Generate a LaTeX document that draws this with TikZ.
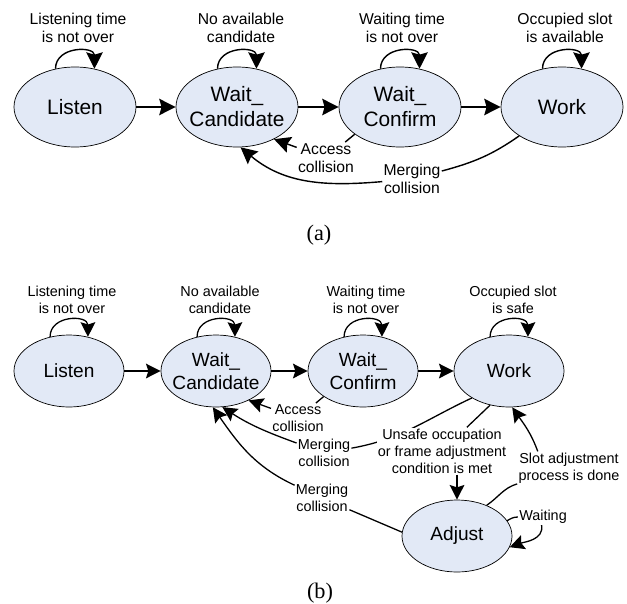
\documentclass[tikz,border=0pt]{standalone}
\usepackage{fontspec}
\setmainfont{Liberation Serif}
\setsansfont{Liberation Sans}
\usetikzlibrary{calc, arrows.meta, shapes.geometric}

\definecolor{estadoazul}{RGB}{226,233,246}

\begin{document}
\begin{tikzpicture}[x=0.03cm, y=0.03cm,
    estadoA/.style={ellipse, draw, line width=0.6pt, fill=estadoazul, minimum width=3.66cm, minimum height=2.4cm, inner xsep=-6pt, inner ysep=0pt, align=center, font=\sffamily\fontsize{17.8}{21.4}\selectfont},
    estadoB/.style={ellipse, draw, line width=0.6pt, fill=estadoazul, minimum width=3.3cm, minimum height=2.16cm, inner xsep=-6pt, inner ysep=0pt, align=center, font=\sffamily\fontsize{16.3}{19.5}\selectfont},
    etiqA/.style={fill=white, inner sep=1pt, align=center, font=\sffamily\fontsize{13.4}{15.4}\selectfont},
    etiqB/.style={fill=white, inner sep=1pt, align=center, font=\sffamily\fontsize{12.3}{14.5}\selectfont},
    lineaA/.style={line width=1.2pt},
    lineaB/.style={line width=1.1pt},
    flechaA/.style={lineaA, -{Stealth[length=14pt, width=14pt, inset=2pt]}},
    flechaB/.style={lineaB, -{Stealth[length=12.5pt, width=12.5pt, inset=2pt]}},
    rotulo/.style={font=\rmfamily\fontsize{19}{22}\selectfont}
]
    % Fijar los limites del dibujo
    \useasboundingbox (0,0) rectangle (627,603);

    % ---------------- Diagrama (a) ----------------
    % Estados
    \node[estadoA] (LA) at (75,496) {Listen};
    \node[estadoA] (CA) at (237,496) {Wait\_\\Candidate};
    \node[estadoA] (FA) at (400,496) {Wait\_\\Confirm};
    \node[estadoA] (WA) at (562,496) {Work};

    % Etiquetas de los lazos
    \node[etiqA] (tLA) at (78,575) {Listening time\\is not over};
    \node[etiqA] (tCA) at (241,575) {No available\\candidate};
    \node[etiqA] (tFA) at (402,575) {Waiting time\\is not over};
    \node[etiqA] (tWA) at (565,575) {Occupied slot\\is available};

    % Lazos sobre cada estado
    \draw[flechaA] (LA.117) to[out=90,in=90,looseness=1.5] (LA.63);
    \draw[flechaA] (CA.117) to[out=90,in=90,looseness=1.5] (CA.63);
    \draw[flechaA] (FA.117) to[out=90,in=90,looseness=1.5] (FA.63);
    \draw[flechaA] (WA.117) to[out=90,in=90,looseness=1.5] (WA.63);

    % Transiciones horizontales
    \draw[flechaA] (LA) -- (CA);
    \draw[flechaA] (CA) -- (FA);
    \draw[flechaA] (FA) -- (WA);

    % Colision de acceso
    \node[etiqA] (accA) at (326,445) {Access\\collision};
    \draw[lineaA] (FA.211) -- (accA);
    \draw[flechaA] (accA) -- (CA.-41);

    % Colision por fusion
    \node[etiqA] (mrgA) at (412,424) {Merging\\collision};
    \draw[lineaA] (WA.214) to[out=215,in=15] (mrgA);
    \draw[flechaA] (mrgA) to[out=185,in=-40] (CA.-85);

    \node[rotulo] (capA) at (319,368) {(a)};

    % ---------------- Diagrama (b) ----------------
    % Estados
    \node[estadoB] (LB) at (69,232) {Listen};
    \node[estadoB] (CB) at (216,232) {Wait\_\\Candidate};
    \node[estadoB] (FB) at (363,232) {Wait\_\\Confirm};
    \node[estadoB] (WB) at (509,232) {Work};
    \node[estadoB] (AB) at (457,67) {Adjust};

    % Etiquetas de los lazos
    \node[etiqB] (tLB) at (72,303) {Listening time\\is not over};
    \node[etiqB] (tCB) at (220,303) {No available\\candidate};
    \node[etiqB] (tFB) at (366,303) {Waiting time\\is not over};
    \node[etiqB] (tWB) at (513,303) {Occupied slot\\is safe};

    % Lazos sobre cada estado
    \draw[flechaB] (LB.119) to[out=90,in=90,looseness=1.5] (LB.61);
    \draw[flechaB] (CB.119) to[out=90,in=90,looseness=1.5] (CB.61);
    \draw[flechaB] (FB.119) to[out=90,in=90,looseness=1.5] (FB.61);
    \draw[flechaB] (WB.119) to[out=90,in=90,looseness=1.5] (WB.61);

    % Transiciones horizontales
    \draw[flechaB] (LB) -- (CB);
    \draw[flechaB] (CB) -- (FB);
    \draw[flechaB] (FB) -- (WB);

    % Colision de acceso
    \node[etiqB] (accB) at (298,185) {Access\\collision};
    \draw[lineaB] (FB.213) -- (accB);
    \draw[flechaB] (accB) -- (CB.-42);

    % Colision por fusion desde Work (pasa por detras de la etiqueta central)
    \node[etiqB] (mrgB1) at (324,150) {Merging\\collision};
    \draw[lineaB] (WB.216) to[out=205,in=10] (mrgB1);
    \draw[flechaB] (mrgB1) to[out=160,in=-33] (CB.-80);

    % Ocupacion insegura: Work -> Adjust
    \node[etiqB] (unsB) at (442,152) {Unsafe occupation\\or frame adjustment\\condition is met};
    \draw[lineaB] (WB.241) -- (unsB);
    \draw[flechaB] (unsB.south -| AB.north) -- (AB.north);

    % Colision por fusion desde Adjust
    \node[etiqB] (mrgB2) at (322,105) {Merging\\collision};
    \draw[lineaB] (AB.176) -- (mrgB2);
    \draw[flechaB] (mrgB2) to[out=155,in=-55] (CB.-95);

    % Ajuste terminado: Adjust -> Work
    \node[etiqB] (sloB) at (569,135) {Slot adjustment\\process is done};
    \draw[lineaB] (AB.46) to[out=34,in=197] (sloB);
    \draw[flechaB] (sloB.152) to[out=110,in=-55] (WB.-85);

    % Lazo de espera
    \node[etiqB] (espB) at (543,86) {Waiting};
    \draw[lineaB] (AB.17) to[out=30,in=180] (espB);
    \draw[flechaB] (espB.-100) to[out=-80,in=20] (AB.-12);

    \node[rotulo] (capB) at (320,10) {(b)};

\end{tikzpicture}
\end{document}
